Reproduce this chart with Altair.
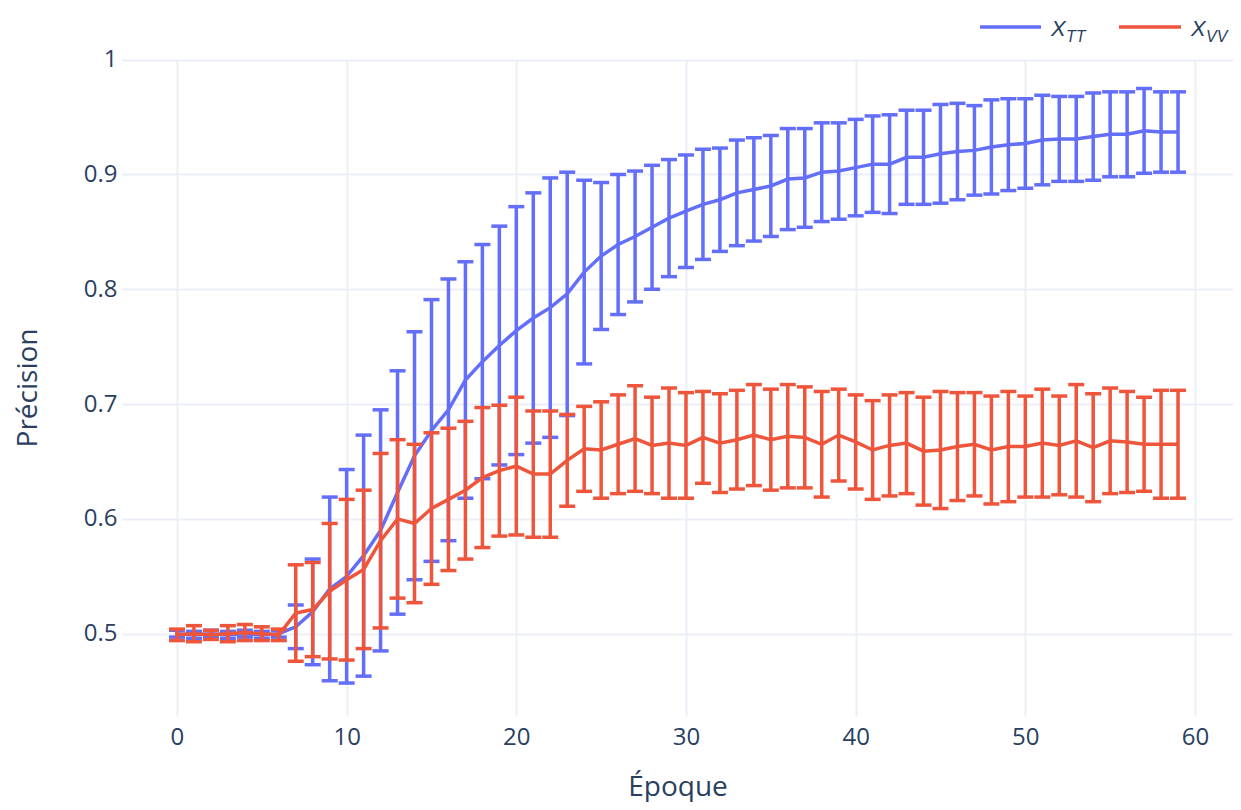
import altair as alt
import pandas as pd

# ---------------- data ----------------
epochs = list(range(60))

tt_mean = [0.500, 0.499, 0.500, 0.499, 0.500, 0.499, 0.500,
           0.506, 0.519, 0.539, 0.550, 0.568, 0.590, 0.623, 0.655, 0.677, 0.695, 0.721, 0.737, 0.751,
           0.764, 0.775, 0.784, 0.796, 0.815, 0.829, 0.839, 0.846, 0.854, 0.862,
           0.868, 0.874, 0.878, 0.884, 0.887, 0.890, 0.896, 0.897, 0.902, 0.903,
           0.906, 0.909, 0.909, 0.915, 0.915, 0.918, 0.920, 0.921, 0.924, 0.926,
           0.927, 0.930, 0.931, 0.931, 0.933, 0.935, 0.935, 0.938, 0.937, 0.937]
tt_err = [0.003, 0.003, 0.003, 0.003, 0.003, 0.003, 0.003,
          0.019, 0.046, 0.080, 0.093, 0.105, 0.105, 0.106, 0.108, 0.114, 0.114, 0.103, 0.102, 0.104,
          0.108, 0.109, 0.113, 0.106, 0.080, 0.064, 0.061, 0.057, 0.054, 0.051,
          0.049, 0.048, 0.045, 0.046, 0.045, 0.044, 0.044, 0.043, 0.043, 0.042,
          0.042, 0.042, 0.043, 0.041, 0.041, 0.043, 0.042, 0.039, 0.041, 0.040,
          0.039, 0.039, 0.037, 0.037, 0.038, 0.037, 0.037, 0.037, 0.035, 0.035]

vv_mean = [0.499, 0.500, 0.499, 0.500, 0.501, 0.500, 0.499,
           0.518, 0.521, 0.537, 0.547, 0.556, 0.581, 0.600, 0.596, 0.609, 0.617, 0.625, 0.636, 0.642,
           0.646, 0.639, 0.639, 0.651, 0.661, 0.660, 0.665, 0.670, 0.664, 0.666,
           0.664, 0.671, 0.666, 0.669, 0.673, 0.669, 0.672, 0.671, 0.665, 0.673,
           0.667, 0.660, 0.664, 0.666, 0.659, 0.660, 0.663, 0.665, 0.660, 0.663,
           0.663, 0.666, 0.664, 0.668, 0.662, 0.668, 0.667, 0.665, 0.665, 0.665]
vv_err = [0.005, 0.007, 0.004, 0.007, 0.007, 0.006, 0.005,
          0.042, 0.041, 0.059, 0.070, 0.069, 0.076, 0.069, 0.069, 0.066, 0.062, 0.060, 0.061, 0.057,
          0.060, 0.055, 0.055, 0.040, 0.037, 0.042, 0.043, 0.046, 0.042, 0.048,
          0.046, 0.040, 0.043, 0.043, 0.044, 0.044, 0.045, 0.044, 0.046, 0.040,
          0.041, 0.043, 0.044, 0.044, 0.047, 0.051, 0.047, 0.045, 0.047, 0.048,
          0.044, 0.047, 0.043, 0.049, 0.047, 0.046, 0.044, 0.041, 0.047, 0.047]

series_names = ["X_TT", "X_VV"]
series_colors = ["#636efa", "#EF553B"]
x_ticks = [0, 10, 20, 30, 40, 50, 60]
y_ticks = [0.5, 0.6, 0.7, 0.8, 0.9, 1.0]
x_title = "Époque"
y_title = "Précision"


def make_df(means, errs):
    return pd.DataFrame({
        "epoch": epochs,
        "mean": means,
        "lo": [m - s for m, s in zip(means, errs)],
        "hi": [m + s for m, s in zip(means, errs)],
    })


TXT = "#2a3f5f"
GRID = "#EBF0F8"
PLOT_W, PLOT_H = 1111, 657

xscale = alt.Scale(domain=[-3.24, 62.24], nice=False, zero=False)
yscale = alt.Scale(domain=[0.4283, 1.0006], nice=False, zero=False)

xaxis = alt.Axis(values=x_ticks, title=x_title, grid=True, gridColor=GRID, gridWidth=2,
                 domain=False, ticks=False, tickSize=0, labelFont="Open Sans", labelFontSize=24,
                 labelColor=TXT, labelBaseline="alphabetic", labelPadding=28, labelFlush=False,
                 labelOverlap=False, titleFont="Open Sans", titleFontSize=28, titleFontWeight="normal",
                 titleColor=TXT, titleX=PLOT_W / 2, titleY=79, titleAlign="center",
                 titleBaseline="alphabetic")
yaxis = alt.Axis(values=y_ticks, format=".1~f", title=y_title, grid=True, gridColor=GRID, gridWidth=2,
                 domain=False, ticks=False, tickSize=0, labelFont="Open Sans", labelFontSize=24,
                 labelColor=TXT, labelPadding=5, labelFlush=False, labelOverlap=False,
                 titleFont="Open Sans", titleFontSize=28, titleFontWeight="normal", titleColor=TXT,
                 titleX=-86, titleY=PLOT_H / 2, titleAngle=270, titleAlign="center",
                 titleBaseline="alphabetic")


def series_layers(df, color):
    base = alt.Chart(df)
    x = alt.X("epoch:Q", scale=xscale, axis=xaxis)
    bars = base.mark_rule(color=color, strokeWidth=3.5).encode(
        x=x, y=alt.Y("lo:Q", scale=yscale, axis=yaxis), y2="hi:Q")
    cap_lo = base.mark_tick(color=color, orient="horizontal", size=16, thickness=3.5, opacity=1).encode(
        x=x, y=alt.Y("lo:Q", scale=yscale, axis=yaxis))
    cap_hi = base.mark_tick(color=color, orient="horizontal", size=16, thickness=3.5, opacity=1).encode(
        x=x, y=alt.Y("hi:Q", scale=yscale, axis=yaxis))
    line = base.mark_line(color=color, strokeWidth=3.5).encode(
        x=x, y=alt.Y("mean:Q", scale=yscale, axis=yaxis))
    return [bars, cap_lo, cap_hi, line]


layers = []
layers += series_layers(make_df(tt_mean, tt_err), series_colors[0])
layers += series_layers(make_df(vv_mean, vv_err), series_colors[1])

# ---------------- manual legend (subscript labels) ----------------
one = pd.DataFrame({"k": [0]})
legend_specs = [
    (series_colors[0], 858, 919, 929, "X", "TT"),
    (series_colors[1], 997, 1059, 1069, "X", "VV"),
]
for col, lx1, lx2, tx, main, sub in legend_specs:
    layers.append(alt.Chart(one).mark_rule(color=col, strokeWidth=3.5).encode(
        x=alt.value(lx1), x2=alt.value(lx2), y=alt.value(-32)))
    layers.append(alt.Chart(one).mark_text(text=main, font="Liberation Sans", fontStyle="italic",
                                           fontSize=22, color=TXT, align="left",
                                           baseline="alphabetic").encode(
        x=alt.value(tx), y=alt.value(-23)))
    layers.append(alt.Chart(one).mark_text(text=sub, font="Liberation Sans", fontStyle="italic",
                                           fontSize=16, color=TXT, align="left",
                                           baseline="alphabetic").encode(
        x=alt.value(tx + 15), y=alt.value(-17)))

chart = alt.layer(*layers).properties(
    width=PLOT_W, height=PLOT_H,
    autosize=alt.AutoSizeParams(type="none"),
    padding={"left": 114, "top": 51, "right": 0, "bottom": 86},
    background="white",
).configure_view(stroke=None)

chart.save("out.html", embed_options={"renderer": "svg", "actions": False})
